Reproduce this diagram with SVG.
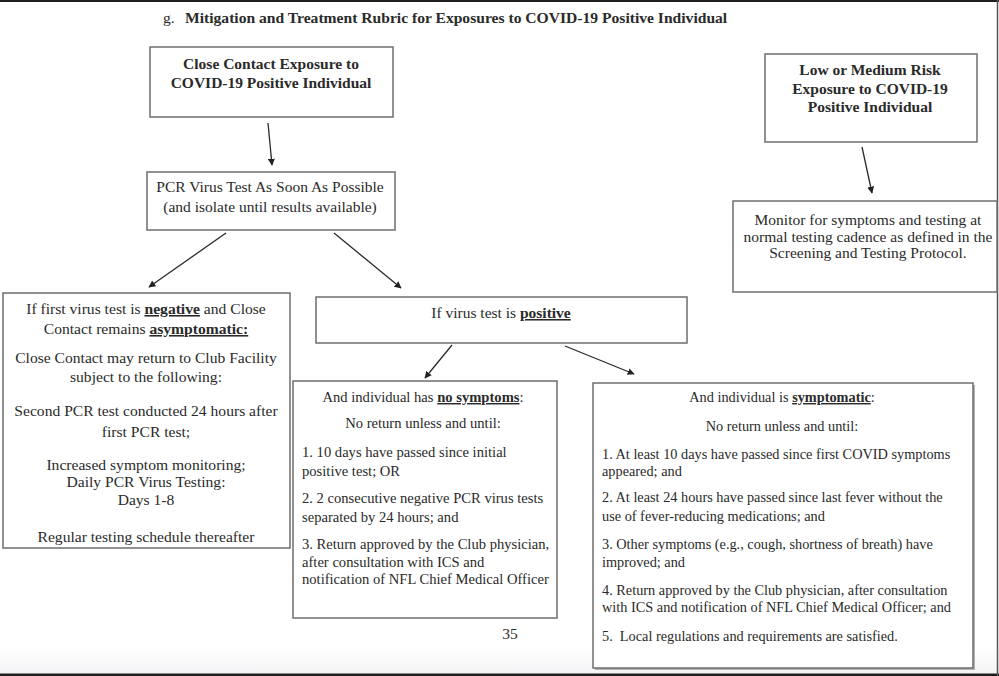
<svg xmlns="http://www.w3.org/2000/svg" width="999" height="676" viewBox="0 0 999 676">
<defs>
<linearGradient id="bg" x1="0" y1="0" x2="0" y2="1">
<stop offset="0" stop-color="#ffffff"/>
<stop offset="1" stop-color="#f3f3f5"/>
</linearGradient>
<marker id="ah" viewBox="0 0 10 10" refX="9" refY="5" markerWidth="7" markerHeight="7" markerUnits="userSpaceOnUse" orient="auto">
<path d="M0,0 L10,5 L0,10 z" fill="#222"/>
</marker>
<style>
text{font-family:"Liberation Serif","Times New Roman",serif;fill:#2a2a2a;}
.b{font-weight:bold;}
.u{font-weight:bold;text-decoration:underline;}
.box{fill:#fff;stroke:#6e6e6e;stroke-width:1.5;}
.c{text-anchor:middle;}
.conn line{stroke:#2a2a2a;stroke-width:1.3;marker-end:url(#ah);}
.ft{font-size:15.6px;}
.fu{font-size:15.5px;}
.fl{font-size:15.6px;}
.fn{font-size:14.6px;}
.fs{font-size:14.3px;}
</style>
</defs>
<rect x="0" y="0" width="999" height="676" fill="#fff"/>
<rect x="0" y="648" width="999" height="27" fill="url(#bg)"/>
<rect x="0" y="0" width="999" height="2" fill="#1e1e1e"/>
<rect x="0" y="673.5" width="999" height="2.5" fill="#1e1e1e"/>
<line x1="997.5" y1="0" x2="997.5" y2="676" stroke="#555" stroke-width="1.5"/>

<g id="title">
<text x="163" y="23" class="ft">g.</text>
<text x="185" y="23" class="ft b">Mitigation and Treatment Rubric for Exposures to COVID-19 Positive Individual</text>
</g>

<g id="close-contact">
<rect class="box" x="150" y="47" width="243" height="70"/>
<text class="fu b c" x="271" y="69">Close Contact Exposure to</text>
<text class="fu b c" x="271" y="88">COVID-19 Positive Individual</text>
</g>

<g id="pcr-test">
<rect class="box" x="147" y="172" width="248" height="58"/>
<text class="fu c" x="270" y="192">PCR Virus Test As Soon As Possible</text>
<text class="fu c" x="270" y="212">(and isolate until results available)</text>
</g>

<g id="negative">
<rect class="box" x="3" y="293" width="287" height="255"/>
<text class="fl c" x="146" y="314">If first virus test is <tspan class="u">negative</tspan> and Close</text>
<text class="fl c" x="146" y="334">Contact remains <tspan class="u">asymptomatic:</tspan></text>
<text class="fl c" x="146" y="363">Close Contact may return to Club Facility</text>
<text class="fl c" x="146" y="382">subject to the following:</text>
<text class="fl c" x="146" y="416">Second PCR test conducted 24 hours after</text>
<text class="fl c" x="146" y="437">first PCR test;</text>
<text class="fl c" x="146" y="470">Increased symptom monitoring;</text>
<text class="fl c" x="146" y="487">Daily PCR Virus Testing:</text>
<text class="fl c" x="146" y="505">Days 1-8</text>
<text class="fl c" x="146" y="542">Regular testing schedule thereafter</text>
</g>

<g id="positive">
<rect class="box" x="316" y="297" width="371" height="46"/>
<text class="fu c" x="501" y="318">If virus test is <tspan class="u">positive</tspan></text>
</g>

<g id="no-symptoms">
<rect class="box" x="293" y="381" width="264" height="237"/>
<text class="fn c" x="423" y="402">And individual has <tspan class="u">no symptoms</tspan>:</text>
<text class="fn c" x="423" y="428">No return unless and until:</text>
<text class="fn" x="302" y="457">1. 10 days have passed since initial</text>
<text class="fn" x="302" y="476">positive test; OR</text>
<text class="fn" x="302" y="503">2. 2 consecutive negative PCR virus tests</text>
<text class="fn" x="302" y="522">separated by 24 hours; and</text>
<text class="fn" x="302" y="549">3. Return approved by the Club physician,</text>
<text class="fn" x="302" y="567">after consultation with ICS and</text>
<text class="fn" x="302" y="584">notification of NFL Chief Medical Officer</text>
</g>

<g id="symptomatic">
<rect x="595" y="385" width="380" height="285" fill="#b4b4b4"/>
<rect class="box" x="593" y="383" width="380" height="285"/>
<text class="fs c" x="782" y="402">And individual is <tspan class="u">symptomatic</tspan>:</text>
<text class="fs c" x="782" y="431">No return unless and until:</text>
<text class="fs" x="602" y="459">1. At least 10 days have passed since first COVID symptoms</text>
<text class="fs" x="602" y="476">appeared; and</text>
<text class="fs" x="602" y="502">2. At least 24 hours have passed since last fever without the</text>
<text class="fs" x="602" y="521">use of fever-reducing medications; and</text>
<text class="fs" x="602" y="549">3. Other symptoms (e.g., cough, shortness of breath) have</text>
<text class="fs" x="602" y="567">improved; and</text>
<text class="fs" x="602" y="595">4. Return approved by the Club physician, after consultation</text>
<text class="fs" x="602" y="612">with ICS and notification of NFL Chief Medical Officer; and</text>
<text class="fs" x="602" y="641" xml:space="preserve">5.  Local regulations and requirements are satisfied.</text>
</g>

<g id="low-medium">
<rect class="box" x="765" y="54" width="212" height="88"/>
<text class="fu b c" x="870" y="75">Low or Medium Risk</text>
<text class="fu b c" x="870" y="94">Exposure to COVID-19</text>
<text class="fu b c" x="870" y="112">Positive Individual</text>
</g>

<g id="monitor">
<rect class="box" x="733" y="201" width="264" height="91"/>
<text class="fu c" x="868" y="225">Monitor for symptoms and testing at</text>
<text class="fu c" x="868" y="242">normal testing cadence as defined in the</text>
<text class="fu c" x="868" y="258">Screening and Testing Protocol.</text>
</g>

<g id="page-number">
<text class="fu c" x="510" y="639">35</text>
</g>

<g id="connectors" class="conn">
<line x1="268" y1="123" x2="272" y2="165"/>
<line x1="226" y1="233" x2="149" y2="287"/>
<line x1="334" y1="233" x2="401" y2="288"/>
<line x1="452" y1="345" x2="425" y2="378"/>
<line x1="565" y1="346" x2="634" y2="374"/>
<line x1="862" y1="147" x2="872" y2="193"/>
</g>
</svg>
